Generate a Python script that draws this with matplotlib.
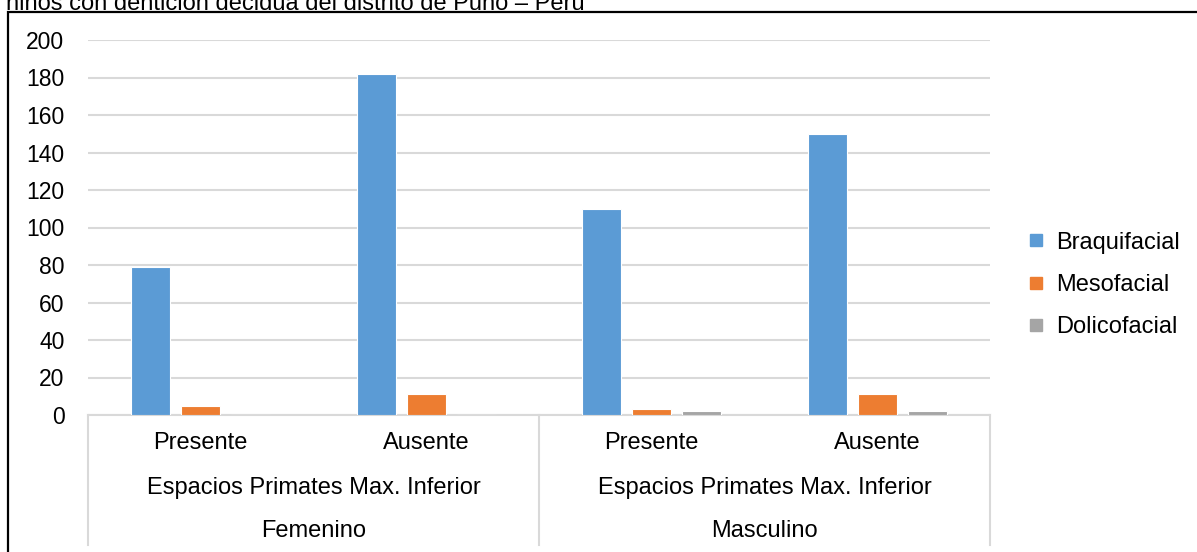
import matplotlib
matplotlib.use("Agg")
import matplotlib.pyplot as plt
from matplotlib.patches import Rectangle
from matplotlib.lines import Line2D
import numpy as np

plt.rcParams['font.family'] = ['Liberation Sans', 'DejaVu Sans']

categories = ["Presente", "Ausente", "Presente", "Ausente"]
middle_labels = ["Espacios Primates Max. Inferior", "Espacios Primates Max. Inferior"]
groups = ["Femenino", "Masculino"]
series_names = ["Braquifacial", "Mesofacial", "Dolicofacial"]
braquifacial = [79, 182, 110, 150]
mesofacial = [5, 11, 3, 11]
dolicofacial = [0, 0, 2, 2]
colors = ["#5B9BD5", "#ED7D31", "#A5A5A5"]
yticks = [0, 20, 40, 60, 80, 100, 120, 140, 160, 180, 200]
title_text = "niños con dentición decidua del distrito de Puno – Perú"

W, H = 1197, 552
fig = plt.figure(figsize=(W / 100, H / 100), dpi=100)

x0, x1 = 88, 990
ytop, ybot = 40, 415
ax = fig.add_axes([x0 / W, 1 - ybot / H, (x1 - x0) / W, (ybot - ytop) / H])

n = len(categories)
x = np.arange(n)
bw = 0.173
step = 0.222
for i, (vals, c, name) in enumerate(zip([braquifacial, mesofacial, dolicofacial], colors, series_names)):
    ax.bar(x + (i - 1) * step, vals, width=bw, color=c, edgecolor="white", linewidth=0.8, label=name, zorder=3)

ax.set_xlim(-0.5, n - 0.5)
ax.set_ylim(0, 200)
ax.set_yticks(yticks)
ax.set_yticklabels([str(v) for v in yticks], fontsize=16.5)
ax.tick_params(axis='y', length=0, pad=17)
ax.tick_params(axis='x', length=0, labelbottom=False)
ax.grid(axis='y', color="#D9D9D9", linewidth=1.5, zorder=0)
for s in ["top", "right", "left"]:
    ax.spines[s].set_visible(False)
ax.spines["bottom"].set_color("#D9D9D9")
ax.spines["bottom"].set_linewidth(1.5)

tr = ax.get_xaxis_transform()
def ypix_to_axes(yp):
    return (ybot - yp) / (ybot - ytop)
for xi, lab in zip(x, categories):
    ax.text(xi, ypix_to_axes(443), lab, transform=tr, ha='center', va='center', fontsize=17, clip_on=False)
for gi, lab in enumerate(middle_labels):
    ax.text(2 * gi + 0.5, ypix_to_axes(488), lab, transform=tr, ha='center', va='center', fontsize=17, clip_on=False)
for gi, lab in enumerate(groups):
    ax.text(2 * gi + 0.5, ypix_to_axes(531), lab, transform=tr, ha='center', va='center', fontsize=17, clip_on=False)
for xs in [-0.5, 1.5, 3.5]:
    ax.plot([xs, xs], [0, ypix_to_axes(545)], transform=tr, color="#D9D9D9", linewidth=1.5, clip_on=False)

handles = [Line2D([0], [0], marker='s', color='none', markerfacecolor=c, markeredgecolor=c, markersize=9) for c in colors]
fig.legend(handles, series_names, loc='center left', bbox_to_anchor=(1012 / W, 1 - 285 / H),
           frameon=False, fontsize=17, handletextpad=0.35, labelspacing=0.86, handlelength=1.0,
           borderpad=0.0)

fig.patches.append(Rectangle((8 / W, -0.05), 1.1, 1 - 12 / H + 0.05, transform=fig.transFigure,
                             fill=False, edgecolor='black', linewidth=1.6))
fig.text(6 / W, 1 - 10 / H, title_text, ha='left', va='baseline', fontsize=17)

fig.savefig("out.png", dpi=100)
